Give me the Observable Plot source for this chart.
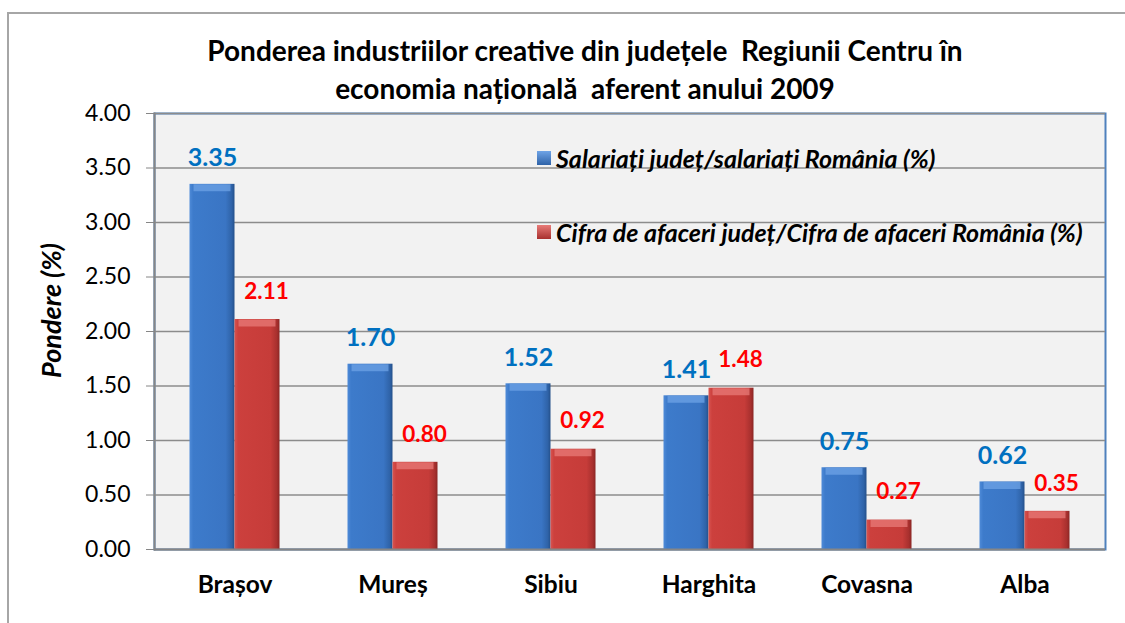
<!DOCTYPE html>
<html>
<head>
<meta charset="utf-8">
<script src="https://cdn.jsdelivr.net/npm/d3@7"></script>
<script src="https://cdn.jsdelivr.net/npm/@observablehq/plot@0.6"></script>
<style>
  html, body { margin: 0; padding: 0; background: #fff; }
  #wrap { position: relative; width: 1125px; height: 623px; overflow: hidden; font-family: Lato, "Open Sans", sans-serif; }
  #border { position: absolute; left: 7px; top: 12px; width: 1200px; height: 700px; border-left: 2px solid #a6a6a6; border-top: 2px solid #a6a6a6; }
  #title { position: absolute; left: 0; width: 1170px; top: 31px; text-align: center; font-weight: bold; font-size: 28px; line-height: 38px; color: #000; white-space: pre; }
  #chart { position: absolute; left: 0; top: 100px; }
  .leg { position: absolute; left: 537px; font-weight: bold; font-style: italic; font-size: 25px; line-height: 30px; color: #000; white-space: nowrap; display: flex; align-items: center; }
  .sw { display: inline-block; width: 14px; height: 14px; margin-right: 5px; }
</style>
</head>
<body>
<div id="wrap">
  <div id="border"></div>
  <div id="title"></div>
  <div id="chart"></div>
  <div id="legend"></div>
</div>
<script>
const titleLines = ["Ponderea industriilor creative din județele  Regiunii Centru în", "economia națională  aferent anului 2009"];
const categories = ["Brașov", "Mureș", "Sibiu", "Harghita", "Covasna", "Alba"];
const seriesNames = ["Salariați județ/salariați România (%)", "Cifra de afaceri județ/Cifra de afaceri România (%)"];
const salariati = [3.35, 1.70, 1.52, 1.41, 0.75, 0.62];
const cifraAfaceri = [2.11, 0.80, 0.92, 1.48, 0.27, 0.35];
const yTicks = [0, 0.5, 1, 1.5, 2, 2.5, 3, 3.5, 4];
const yLabel = "Pondere (%)";

document.getElementById("title").textContent = titleLines.join("\n");

const blueRows = categories.map((c, i) => ({cat: c, series: seriesNames[0], value: salariati[i]}));
const redRows = categories.map((c, i) => ({cat: c, series: seriesNames[1], value: cifraAfaceri[i]}));
const half = 22.5;

const chart = Plot.plot({
  width: 1125,
  height: 523,
  marginLeft: 154,
  marginRight: 20,
  marginTop: 13,
  marginBottom: 74,
  style: {fontFamily: "Lato, 'Open Sans', sans-serif", background: "transparent", overflow: "visible"},
  x: {domain: categories, paddingInner: 0.716, paddingOuter: 0.358, label: null},
  y: {domain: [0, 4], label: null},
  color: {domain: seriesNames, range: ["url(#gBlue)", "url(#gRed)"]},
  marks: [
    Plot.frame({fill: "#f2f2f2", stroke: "#4f81bd", strokeWidth: 2}),
    Plot.gridY(yTicks, {stroke: "#8c8c8c", strokeOpacity: 1, strokeWidth: 1.5}),
    Plot.frame({anchor: "left", stroke: "#868686", strokeWidth: 2}),
    Plot.barY(blueRows, {x: "cat", y: "value", fill: "series", dx: -half}),
    Plot.barY(redRows, {x: "cat", y: "value", fill: "series", dx: half}),
    Plot.tickY(blueRows, {x: "cat", y: "value", dx: -half, dy: 3.5, stroke: "#6ea3e6", strokeWidth: 7, inset: 4, strokeOpacity: 0.75}),
    Plot.tickY(redRows, {x: "cat", y: "value", dx: half, dy: 3.5, stroke: "#e87b78", strokeWidth: 7, inset: 4, strokeOpacity: 0.75}),
    Plot.ruleY([0], {stroke: "#868686", strokeWidth: 2}),
    Plot.text(blueRows, {x: "cat", y: "value", text: d => d.value.toFixed(2), dx: -half, dy: -26, fill: "#0070c0", fontWeight: "bold", fontSize: 25}),
    Plot.text(redRows, {x: "cat", y: "value", text: d => d.value.toFixed(2), dx: half + 9, dy: -28, fill: "#ff0000", fontWeight: "bold", fontSize: 22.5}),
    Plot.axisY(yTicks, {tickFormat: d3.format(".2f"), tickSize: 8, tickPadding: 16, fontSize: 23, stroke: "#868686", fill: "#000", label: null}),
    Plot.axisX({tickSize: 0, tickPadding: 26, fontSize: 24.5, fontWeight: "bold", fill: "#000", label: null}),
    Plot.text([yLabel], {frameAnchor: "left", textAnchor: "middle", rotate: -90, dx: -102, dy: -21, fontSize: 27, fontWeight: "bold", fontStyle: "italic", fill: "#000"})
  ]
});

// gradients for 3D-like bars
const svg = d3.select(chart);
const defs = svg.insert("defs", ":first-child");
function grad(id, stops) {
  const g = defs.append("linearGradient").attr("id", id).attr("x1", "0").attr("x2", "1").attr("y1", "0").attr("y2", "0");
  stops.forEach(([o, c]) => g.append("stop").attr("offset", o).attr("stop-color", c));
}
grad("gBlue", [["0%", "#4f8bd8"], ["8%", "#3d7bcb"], ["80%", "#3a75c4"], ["94%", "#2f63a8"], ["100%", "#24508a"]]);
grad("gRed", [["0%", "#d85450"], ["8%", "#cc403d"], ["80%", "#c63c39"], ["94%", "#a8302e"], ["100%", "#8a2624"]]);

document.getElementById("chart").appendChild(chart);

// legend (inside plot area)
const legendColors = ["linear-gradient(#6ea3e6, #2f63a8)", "linear-gradient(#e87b78, #a8302e)"];
const legTops = [143, 217];
const legend = document.getElementById("legend");
seriesNames.forEach((s, i) => {
  const d = document.createElement("div");
  d.className = "leg";
  d.style.top = legTops[i] + "px";
  const sw = document.createElement("span");
  sw.className = "sw";
  sw.style.background = legendColors[i];
  d.appendChild(sw);
  d.appendChild(document.createTextNode(s));
  legend.appendChild(d);
});
</script>
</body>
</html>
